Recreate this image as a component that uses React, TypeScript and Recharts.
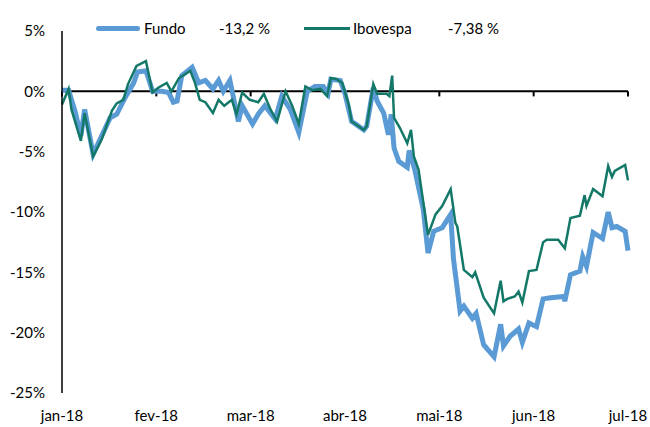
import { LineChart, Line, XAxis, YAxis, ReferenceLine } from 'recharts';

const months = ['jan-18', 'fev-18', 'mar-18', 'abr-18', 'mai-18', 'jun-18', 'jul-18'];
const monthTicks = [0, 1, 2, 3, 4, 5, 6];
const yTicks = [-25, -20, -15, -10, -5, 0, 5];

// x position in months since jan-18, value in %
const fundoT = [
  0, 0.07, 0.14, 0.2, 0.24, 0.33, 0.51, 0.58, 0.67, 0.76, 0.8, 0.89, 0.96, 1.06, 1.13, 1.18, 1.22, 1.27,
  1.38, 1.45, 1.52, 1.6, 1.66, 1.71, 1.78, 1.87, 1.91, 2.02, 2.08, 2.15, 2.26, 2.33, 2.42, 2.51, 2.6, 2.68,
  2.77, 2.82, 2.85, 2.95, 3.0, 3.07, 3.11, 3.2, 3.23, 3.3, 3.34, 3.41, 3.46, 3.49, 3.52, 3.57, 3.66, 3.68,
  3.74, 3.83, 3.88, 3.94, 4.03, 4.12, 4.15, 4.22, 4.26, 4.35, 4.39, 4.47, 4.58, 4.65, 4.68, 4.75, 4.84, 4.88,
  4.95, 5.03, 5.1, 5.18, 5.32, 5.33, 5.39, 5.49, 5.52, 5.56, 5.63, 5.73, 5.79, 5.83, 5.88, 5.97, 6.0,
];
const fundoV = [
  0.1, 0.1, -1.7, -3.7, -1.5, -5.2, -2.2, -1.9, -0.5, 0.7, 1.6, 1.7, 0.0, 0.0, -0.1, -0.9, -0.8, 1.3,
  2.0, 0.7, 0.9, 0.2, 0.9, 0.0, 0.9, -2.5, -1.2, -2.7, -1.9, -1.2, -2.3, -0.4, -1.5, -3.4, 0.0, 0.4,
  0.4, -0.2, 1.0, 0.9, -0.2, -2.5, -2.7, -3.2, -2.9, 0.3, -0.8, -1.8, -3.6, -1.9, -4.7, -5.8, -6.3, -4.9,
  -6.5, -9.8, -13.4, -11.6, -11.3, -10.2, -13.9, -18.2, -17.8, -18.8, -18.4, -21.0, -22.0, -19.3, -21.1, -20.3, -19.7, -20.8,
  -19.2, -19.5, -17.2, -17.1, -17.0, -17.4, -15.2, -14.9, -13.7, -14.5, -11.7, -12.2, -10.0, -11.3, -11.2, -11.6, -13.2,
];

const ibovT = [
  0, 0.07, 0.1, 0.2, 0.24, 0.33, 0.42, 0.53, 0.58, 0.65, 0.7, 0.79, 0.89, 0.96, 1.02, 1.11, 1.16, 1.24,
  1.36, 1.41, 1.46, 1.52, 1.6, 1.66, 1.72, 1.8, 1.85, 1.91, 1.99, 2.08, 2.14, 2.21, 2.28, 2.37, 2.44, 2.51,
  2.58, 2.65, 2.74, 2.81, 2.85, 2.91, 2.97, 3.04, 3.07, 3.11, 3.2, 3.23, 3.3, 3.34, 3.44, 3.47, 3.5, 3.52,
  3.58, 3.66, 3.7, 3.73, 3.78, 3.88, 3.96, 4.03, 4.12, 4.17, 4.19, 4.26, 4.35, 4.38, 4.47, 4.58, 4.65, 4.68,
  4.72, 4.8, 4.84, 4.88, 4.95, 5.03, 5.1, 5.14, 5.26, 5.33, 5.39, 5.49, 5.54, 5.56, 5.63, 5.73, 5.79, 5.83,
  5.86, 5.97, 6.0,
];
const ibovV = [
  -1.1, 0.2, -1.5, -4.1, -1.8, -5.4, -4.0, -1.6, -1.0, -0.7, 0.6, 2.1, 2.5, -0.1, 0.3, 0.7, 0.0, 1.1,
  1.7, 0.7, -0.7, -0.9, -1.8, -0.7, -1.2, -0.7, -1.9, -0.1, -0.7, -0.9, -0.2, -1.5, -2.5, 0.0, -1.2, -2.7,
  0.4, 0.1, 0.2, -0.4, 1.1, 1.0, 0.7, -1.1, -2.5, -2.7, -3.2, -2.9, 0.6, -0.2, -0.2, -0.4, 1.3, -2.2,
  -3.0, -4.3, -3.2, -5.4, -6.5, -11.9, -10.2, -9.5, -8.1, -10.9, -11.2, -14.8, -15.4, -15.0, -17.1, -18.4, -15.7, -17.4,
  -17.2, -17.0, -16.6, -17.5, -14.9, -14.8, -12.5, -12.3, -12.3, -13.0, -10.5, -10.3, -8.6, -9.5, -8.1, -8.7, -6.2, -7.1,
  -6.6, -6.1, -7.38,
];

const fundo = fundoT.map((t, i) => ({ t, v: fundoV[i] }));
const ibovespa = ibovT.map((t, i) => ({ t, v: ibovV[i] }));

const FUNDO_COLOR = '#5b9bd5';
const IBOV_COLOR = '#137868';
const FONT = 'Lato, "Open Sans", sans-serif';

export default function App() {
  return (
    <div style={{ position: 'absolute', left: 0, top: 0, width: 650, height: 427, background: '#fff', fontFamily: FONT }}>
      <LineChart width={650} height={427} margin={{ top: 31, right: 22, bottom: 0, left: 0 }}>
        <XAxis
          type="number"
          dataKey="t"
          domain={[0, 6]}
          ticks={monthTicks}
          tickFormatter={(m: number) => months[m]}
          axisLine={false}
          tickLine={false}
          tickSize={0}
          tickMargin={17}
          height={34}
          tick={{ fontSize: 15, fill: '#000', fontFamily: FONT }}
        />
        <YAxis
          domain={[-25, 5]}
          ticks={yTicks}
          tickFormatter={(v: number) => `${v}%`}
          width={62}
          axisLine={{ stroke: '#000', strokeWidth: 1.5 }}
          tickLine={false}
          tickSize={0}
          tickMargin={17}
          tick={{ fontSize: 15, fill: '#000', fontFamily: FONT }}
        />
        <ReferenceLine y={0} stroke="#000" strokeWidth={2} />
        {monthTicks.map((m) => (
          <ReferenceLine
            key={m}
            segment={[{ x: m, y: 0 }, { x: m, y: -0.42 }]}
            stroke="#000"
            strokeWidth={2}
          />
        ))}
        <Line
          data={fundo}
          dataKey="v"
          type="linear"
          stroke={FUNDO_COLOR}
          strokeWidth={5}
          dot={false}
          isAnimationActive={false}
        />
        <Line
          data={ibovespa}
          dataKey="v"
          type="linear"
          stroke={IBOV_COLOR}
          strokeWidth={2.5}
          dot={false}
          isAnimationActive={false}
        />
      </LineChart>
      <div style={{ position: 'absolute', top: 18, left: 96, height: 20, display: 'flex', alignItems: 'center', fontSize: 15, color: '#000' }}>
        <span style={{ width: 44, height: 5, borderRadius: 3, background: FUNDO_COLOR, marginRight: 4 }} />
        <span style={{ width: 75 }}>Fundo</span>
        <span style={{ width: 85 }}>-13,2 %</span>
        <span style={{ width: 46, height: 3, background: IBOV_COLOR, marginRight: 3 }} />
        <span style={{ width: 95 }}>Ibovespa</span>
        <span>-7,38 %</span>
      </div>
    </div>
  );
}
